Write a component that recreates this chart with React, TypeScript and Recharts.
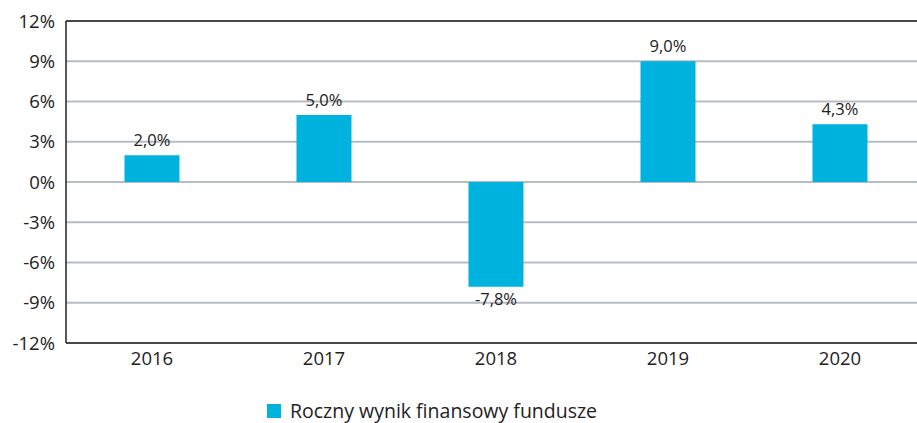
import React from 'react';
import {
  BarChart,
  Bar,
  XAxis,
  YAxis,
  CartesianGrid,
  ReferenceLine,
  Legend,
  LabelList,
} from 'recharts';

const years = ['2016', '2017', '2018', '2019', '2020'];
const results = [2.0, 5.0, -7.8, 9.0, 4.3];
const yTicks = [-12, -9, -6, -3, 0, 3, 6, 9, 12];
const seriesName = 'Roczny wynik finansowy fundusze';

const BAR_COLOR = '#00B2DE';
const GRID_COLOR = '#B5BDC5';
const FONT = '"Open Sans", "Noto Sans", sans-serif';

const data = years.map((year, i) => ({ year, value: results[i] }));

const fmt = (v: number) => v.toFixed(1).replace('.', ',') + '%';

const ValueLabel = (props: any) => {
  const { x, y, width, height, value } = props;
  const top = Math.min(y, y + height);
  const bottom = Math.max(y, y + height);
  const cx = x + width / 2;
  const ty = value >= 0 ? top - 9 : bottom + 18;
  return (
    <text x={cx} y={ty} textAnchor="middle" fontSize={16.5} fill="#222" fontFamily={FONT}>
      {fmt(value)}
    </text>
  );
};

const LegendBox = () => (
  <div style={{ display: 'flex', alignItems: 'center', fontFamily: FONT, fontSize: 19.5, color: '#222', lineHeight: '22px' }}>
    <span style={{ width: 14, height: 14, background: BAR_COLOR, display: 'inline-block', marginRight: 9 }} />
    <span>{seriesName}</span>
  </div>
);

export default function App() {
  return (
    <div style={{ position: 'fixed', left: 0, top: 0, width: 917, height: 423, overflow: 'hidden', background: '#fff' }}>
      <BarChart
        width={926}
        height={423}
        data={data}
        margin={{ top: 21, right: 0, bottom: 50, left: 0 }}
        barCategoryGap="34%"
      >
        <CartesianGrid vertical={false} stroke={GRID_COLOR} strokeWidth={2} />
        <XAxis
          dataKey="year"
          height={30}
          tickLine={false}
          axisLine={{ stroke: '#222', strokeWidth: 1.5 }}
          tick={{ fill: '#222', fontSize: 18.5, fontFamily: FONT }}
          tickMargin={3}
        />
        <YAxis
          width={66}
          domain={[-12, 12]}
          ticks={yTicks}
          interval={0}
          tickFormatter={(v: number) => `${v}%`}
          tickLine={false}
          axisLine={{ stroke: '#222', strokeWidth: 1.5 }}
          tick={{ fill: '#222', fontSize: 18.5, fontFamily: FONT }}
          tickMargin={5}
        />
        <ReferenceLine y={12} stroke="#222" strokeWidth={1.5} />
        <Legend
          layout="horizontal"
          verticalAlign="middle"
          align="center"
          content={() => <LegendBox />}
          wrapperStyle={{ position: 'absolute', left: 267, top: 400, width: 440 }}
        />
        <Bar dataKey="value" name={seriesName} fill={BAR_COLOR} isAnimationActive={false}>
          <LabelList dataKey="value" content={ValueLabel} />
        </Bar>
      </BarChart>
    </div>
  );
}
